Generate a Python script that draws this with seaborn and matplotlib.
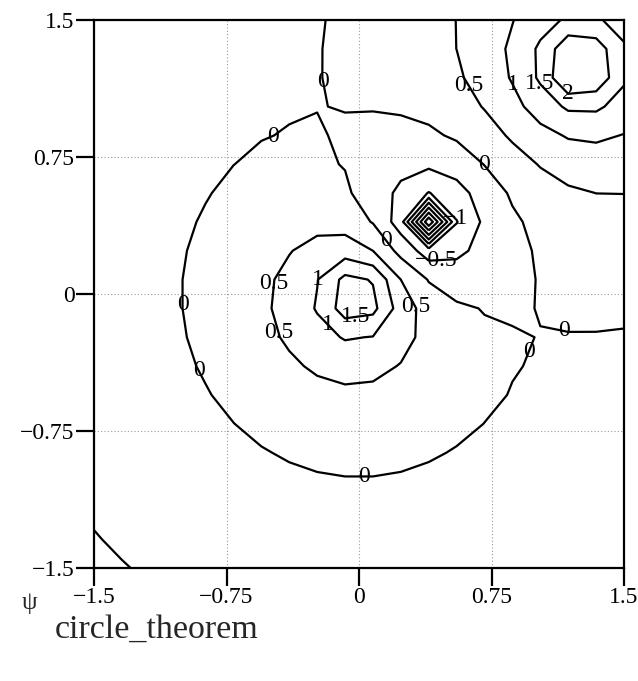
import numpy as np
import matplotlib
matplotlib.use("Agg")
import matplotlib.pyplot as plt
import seaborn as sns

# ---- data: circle theorem for a point vortex outside the unit circle ----
vortex_strength = 1.0          # kappa
vortex_pos = (1.25, 1.25)      # outside vortex; images at (0.4, 0.4) and at origin
circle_radius = 1.0
grid_points = 20               # evaluation mesh (coarse, as in the original)
x_limits = [-1.5, 1.5]
y_limits = [-1.5, 1.5]
contour_levels = [-3.5, -3.0, -2.5, -2.0, -1.5, -1.0, -0.5, 0.0, 0.5, 1.0, 1.5, 2.0]
tick_values = [-1.5, -0.75, 0.0, 0.75, 1.5]
tick_labels = ["\u22121.5", "\u22120.75", "0", "0.75", "1.5"]
label_spots = [(-0.16, 1.17), (-0.50, 0.89), (0.73, 0.73), (-1.0, -0.06),
               (-0.91, -0.42), (0.03, -0.98), (0.95, -0.31), (1.17, -0.15),
               (0.18, 0.31), (0.62, 1.14), (0.86, 1.14), (1.0, 1.14),
               (1.18, 1.09), (0.54, 0.41), (0.44, 0.17), (-0.5, 0.06),
               (-0.25, 0.08), (0.32, -0.07), (-0.46, -0.21), (-0.19, -0.18),
               (-0.02, -0.13)]

# ---- field ----
xs = np.linspace(x_limits[0], x_limits[1], grid_points)
ys = np.linspace(y_limits[0], y_limits[1], grid_points)
X, Y = np.meshgrid(xs, ys)
Z = X + 1j * Y
z1 = complex(*vortex_pos)
a2 = circle_radius ** 2
psi = vortex_strength * (-np.log(np.abs(Z - z1))
                         + np.log(np.abs(a2 - np.conj(z1) * Z))
                         - np.log(np.abs(Z)))

# ---- style ----
sns.set_theme(style="white")
plt.rcParams["font.family"] = ["Liberation Serif", "DejaVu Serif"]
plt.rcParams["axes.unicode_minus"] = True
plt.rcParams["contour.negative_linestyle"] = "solid"

fig = plt.figure(figsize=(6.38, 6.81), dpi=100)
ax = fig.add_axes([94 / 638, 1 - 568 / 681, 530 / 638, 548 / 681])

cs = ax.contour(X, Y, psi, levels=contour_levels, colors="black",
                linewidths=1.6, linestyles="solid")

def fmt(v):
    s = f"{v:g}"
    return s.replace("-", "\u2212")

texts = ax.clabel(cs, inline=False, fmt=fmt, fontsize=17, manual=label_spots)
for t in texts:
    t.set_rotation(0)
    t.set_color("black")

ax.set_xlim(x_limits)
ax.set_ylim(y_limits)
ax.set_xticks(tick_values)
ax.set_xticklabels(tick_labels)
ax.set_yticks(tick_values)
ax.set_yticklabels(tick_labels)
ax.grid(True, linestyle=(0, (1, 2)), color="#9a9a9a", linewidth=0.8)
ax.set_axisbelow(True)
for sp in ax.spines.values():
    sp.set_color("black")
    sp.set_linewidth(1.6)
ax.tick_params(axis="both", direction="out", length=13, width=1.6,
               color="black", labelsize=17, pad=1, labelcolor="black")
ax.tick_params(axis="x", bottom=True)
ax.tick_params(axis="y", left=True)

fig.text(22 / 638, 1 - 603 / 681, "\u03c8", fontsize=18, va="center", ha="left")
fig.text(55 / 638, 1 - 630 / 681, "circle_theorem", fontsize=24.5,
         va="center", ha="left")

fig.savefig("out.png", dpi=100, facecolor="white")
